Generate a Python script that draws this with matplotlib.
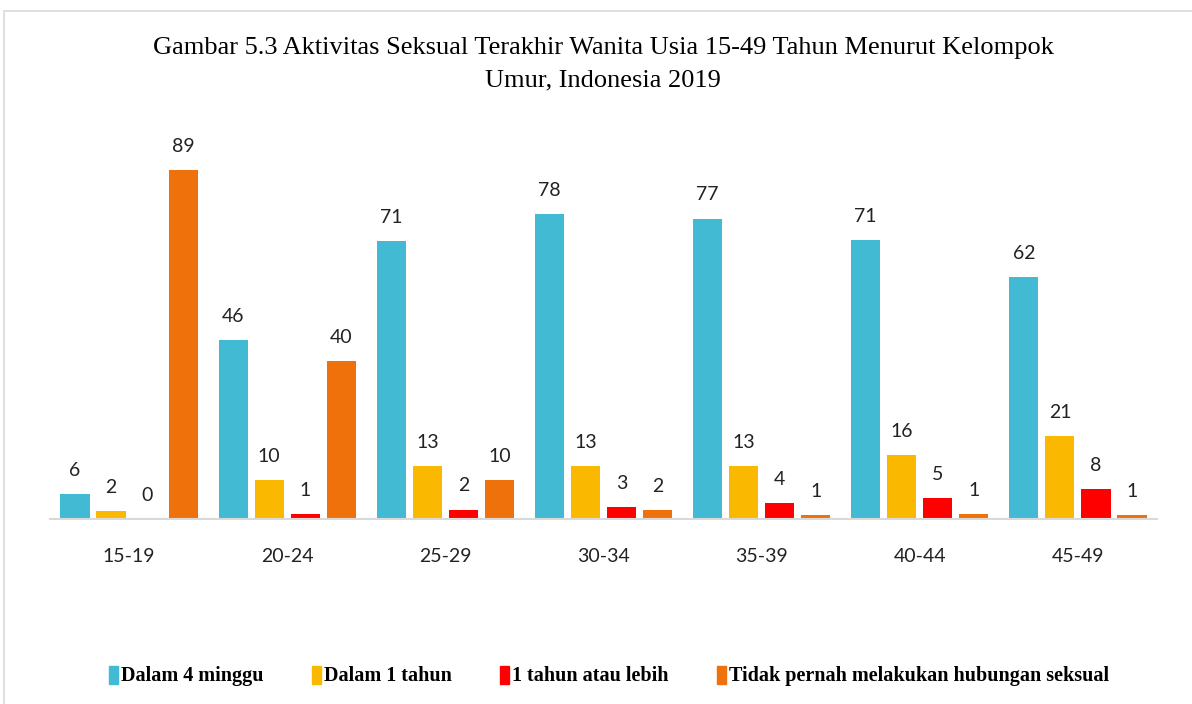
import matplotlib.pyplot as plt
import matplotlib.patches as mpatches
import numpy as np

# data (bar heights in %)
groups = ["15-19", "20-24", "25-29", "30-34", "35-39", "40-44", "45-49"]
series = ["Dalam 4 minggu", "Dalam 1 tahun", "1 tahun atau lebih",
          "Tidak pernah melakukan hubungan seksual"]
dalam_4_minggu = [6.4, 45.6, 70.8, 77.8, 76.6, 71.2, 61.7]
dalam_1_tahun = [2.0, 9.9, 13.4, 13.4, 13.4, 16.3, 21.2]
lebih_1_tahun = [0.0, 1.2, 2.4, 3.1, 4.1, 5.4, 7.7]
tidak_pernah = [89.0, 40.3, 9.9, 2.3, 1.0, 1.3, 1.0]
colors = ["#42BAD3", "#FAB900", "#FF0000", "#EE710C"]

fig = plt.figure(figsize=(11.92, 7.04), dpi=100)
ax = fig.add_axes([50/1192, 185/704, 1107/1192, 392/704])

x = np.arange(len(groups))
offsets = [-0.342, -0.114, 0.114, 0.342]
width = 0.184
for vals, off, col, name in zip([dalam_4_minggu, dalam_1_tahun, lebih_1_tahun, tidak_pernah],
                                offsets, colors, series):
	bars = ax.bar(x + off, vals, width, color=col, label=name, linewidth=0)
	for b, v in zip(bars, vals):
		ax.annotate("%d" % round(v), (b.get_x() + b.get_width()/2, v),
			xytext=(0, 11), textcoords="offset points", ha="center", va="bottom",
			fontsize=14, family="Lato", color="#222222")

ax.set_xlim(-0.5, 6.5)
ax.set_ylim(0, 100)
ax.set_yticks([])
ax.set_xticks(x)
ax.set_xticklabels(groups, fontsize=14, family="Lato", color="#222222")
ax.tick_params(axis="x", length=0, pad=21)
for s in ["top", "right", "left"]:
	ax.spines[s].set_visible(False)
ax.spines["bottom"].set_color("#D9D9D9")
ax.spines["bottom"].set_linewidth(1.5)

fig.text(603/1192, 1 - 64/704, "Gambar 5.3 Aktivitas Seksual Terakhir Wanita Usia 15-49 Tahun Menurut Kelompok\nUmur, Indonesia 2019",
	ha="center", va="center", fontsize=19, family="Liberation Serif", linespacing=1.6)

handles = [mpatches.Patch(color=c) for c in colors]
leg = fig.legend(handles, series, loc="center", bbox_to_anchor=(609/1192, 1 - 676/704), ncol=4,
	frameon=False, handlelength=0.45, handleheight=1.0, handletextpad=0.15, columnspacing=2.4,
	prop={"family": "Liberation Serif", "weight": "bold", "size": 14.5})

# light frame around the chart area
fig.patches.append(mpatches.Rectangle((4/1192, -0.01), 1.1, 1 - 11/704 + 0.01, transform=fig.transFigure,
	fill=False, edgecolor="#D9D9D9", linewidth=1.2))

fig.savefig("out.png", dpi=100)
